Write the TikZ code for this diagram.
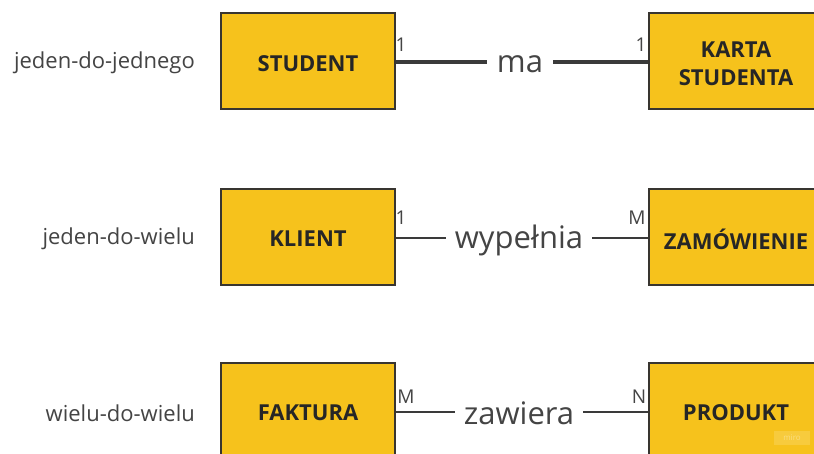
\documentclass[tikz,border=0pt]{standalone}
\usepackage{fontspec}
\setmainfont{Open Sans}
\definecolor{boxfill}{HTML}{F6C21C}
\definecolor{boxline}{HTML}{383530}
\definecolor{txt}{HTML}{444444}
\definecolor{linec}{HTML}{3A3A3A}
\tikzset{
  entity/.style={draw=boxline, line width=2pt, fill=boxfill, minimum width=174pt, minimum height=96pt, inner sep=0pt},
  elabel/.style={align=center, inner sep=0pt, font=\fontsize{22}{28}\selectfont\bfseries, text=black!85},
  kind/.style={anchor=east, font=\fontsize{22}{26}\selectfont, text=txt, inner sep=0pt},
  rel/.style={font=\fontsize{31}{36}\selectfont, text=txt, inner sep=0pt},
  card/.style={font=\fontsize{19}{22}\selectfont, text=txt, inner sep=0pt},
  thinl/.style={draw=linec, line width=2pt},
  thickl/.style={draw=linec, line width=4pt}
}
\begin{document}
\begin{tikzpicture}[x=1pt,y=-1pt]
\useasboundingbox (0,0) rectangle (814,454);
\clip (0,0) rectangle (814,454);
\fill[white] (0,0) rectangle (814,454);
% row 1
\node[entity] (student) at (308,61) {};
\node[elabel] (studentl) at ([yshift=-3pt]student.center) {STUDENT};
\node[entity] (karta) at (736,61) {};
\node[elabel] (kartal) at ([yshift=-3pt]karta.center) {KARTA\\STUDENTA};
\node[rel] (ma) at (520,64) {ma};
\node[kind] (k1) at (195,63) {jeden-do-jednego};
\draw[thickl] (student.east |- 0,62) -- ([xshift=-10pt]ma.west |- 0,62);
\draw[thickl] ([xshift=10pt]ma.east |- 0,62) -- (karta.west |- 0,62);
\node[card] (c11) at (401,45) {1};
\node[card] (c12) at (641,45) {1};
% row 2
\node[entity] (klient) at (308,237) {};
\node[elabel] (klientl) at ([yshift=-2pt]klient.center) {KLIENT};
\node[entity] (zam) at (736,237) {};
\node[elabel] (zaml) at ([yshift=-2pt]zam.center) {ZAMÓWIENIE};
\node[rel] (wyp) at (519,240) {wypełnia};
\node[kind] (k2) at (195,239) {jeden-do-wielu};
\draw[thinl] (klient.east |- 0,238) -- ([xshift=-9pt]wyp.west |- 0,238);
\draw[thinl] ([xshift=9pt]wyp.east |- 0,238) -- (zam.west |- 0,238);
\node[card] (c21) at (401,218) {1};
\node[card] (c22) at (637,218) {M};
% row 3
\node[entity] (faktura) at (308,411) {};
\node[elabel] (faktural) at ([yshift=-2pt]faktura.center) {FAKTURA};
\node[entity] (produkt) at (736,411) {};
\node[elabel] (produktl) at ([yshift=-2pt]produkt.center) {PRODUKT};
\node[rel] (zaw) at (519,413) {zawiera};
\node[kind] (k3) at (195,413) {wielu-do-wielu};
\draw[thinl] (faktura.east |- 0,412) -- ([xshift=-9pt]zaw.west |- 0,412);
\draw[thinl] ([xshift=9pt]zaw.east |- 0,412) -- (produkt.west |- 0,412);
\node[card] (c31) at (406,397) {M};
\node[card] (c32) at (639,397) {N};
% watermark
\node[fill=white, fill opacity=0.15, text opacity=0.35, text=white, font=\fontsize{8}{9}\selectfont, minimum width=36pt, minimum height=14pt, inner sep=0pt] (miro) at (792,438) {miro};
\end{tikzpicture}
\end{document}
